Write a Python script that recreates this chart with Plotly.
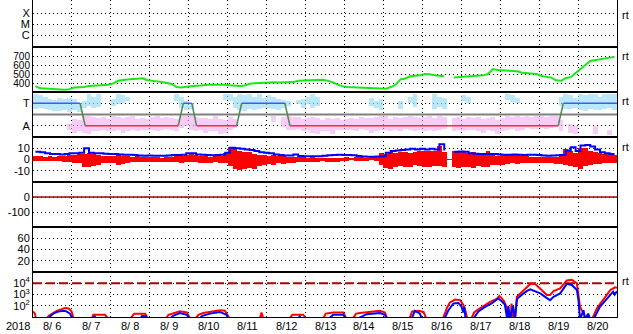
import math
import plotly.graph_objects as go
from plotly.subplots import make_subplots

YEAR_LABEL = "2018"
DAY_LABELS = ["8/ 6", "8/ 7", "8/ 8", "8/ 9", "8/10", "8/11", "8/12", "8/13",
              "8/14", "8/15", "8/16", "8/17", "8/18", "8/19", "8/20"]
N_DAYS = 15
BINS_PER_DAY = 8
N = None

# Panel 2: solar wind speed (3-hour bins)
speed = [365, 341, 340, 335, 330, 328, 326, 332,
         350, 352, 355, 368, 370, 372, 370, 380,
         396, 425, 433, 435, 444, 448, 452, 430,
         420, 418, 410, 396, 390, 355, 350, 358,
         368, 370, 372, 380, 382, 380, 383, 381,
         375, 370, 368, 372, 392, 396, 400, 405,
         405, 407, 406, 408, 405, 410, 425, 426,
         428, 430, 432, 437, 426, 410, 385, 365,
         355, 352, 350, 352, 348, 345, 335, 333,
         335, 355, 380, 440, 450, 475, 480, 485,
         500, 498, 485, 478, 476, N, 462, 465,
         470, 478, 480, 482, 485, 500, 555, 545,
         540, 538, 535, 530, 515, 511, 508, 500,
         478, 470, 460, 430, 425, 455, 465, 510,
         560, 600, 645, 655, 670, 678, 682, 690]

# Panel 3: sector polarity scatter ranges (3-hour bins)
away_lo = [2.5, 2.6, 2.5, 2.4, 2.3, 2.3, 2.4, 2.2, 2.4, 2.2, 2.6, 2.8, 2.6, 2.7, N, N,
           2.8, 2.9, 3.0, 3.2, N, N, N, N, N, N, N, N, N, 3.2, 2.6, 2.4,
           2.5, N, N, N, N, N, N, 3.3, 3.2, 2.6, 2.4, 2.3, 2.5, 2.4, 2.5, 2.6,
           2.6, 2.5, 2.4, 2.6, 2.8, N, 2.9, 2.6, 2.9, 2.6, 2.8, N, N, N, N, N,
           N, N, N, N, N, 2.8, 2.6, 2.4, N, N, N, 2.5, N, 3.0, 2.7, N,
           N, N, 2.5, 2.7, 2.5, N, N, N, 3.2, 3.0, N, N, N, N, N, N,
           N, 3.3, 3.1, 3.0, N, N, N, N, N, N, N, N, 2.8, 2.5, 2.5, 2.6,
           2.4, 2.3, 2.5, 2.4, 2.4, 2.5, 2.6, 2.4]
away_hi = [3.8, 3.7, 3.6, 3.4, 3.3, 3.5, 3.4, 3.5, 3.4, 3.0, 3.2, 3.8, 3.6, 3.8, N, N,
           3.4, 3.8, 3.7, 3.6, N, N, N, N, N, N, N, N, N, 3.8, 3.6, 3.2,
           3.0, N, N, N, N, N, N, 3.8, 3.8, 3.6, 3.8, 3.7, 3.8, 3.6, 3.8, 3.5,
           3.7, 3.6, 3.4, 3.3, 3.2, N, 3.3, 3.4, 3.6, 3.8, 3.6, N, N, N, N, N,
           N, N, N, N, N, 3.5, 3.2, 3.4, N, N, N, 3.2, N, 3.6, 3.8, N,
           N, N, 3.8, 3.6, 3.5, N, N, N, 3.7, 3.6, N, N, N, N, N, N,
           N, 3.8, 3.7, 3.5, N, N, N, N, N, N, N, N, 3.6, 3.8, 3.7, 3.5,
           3.8, 3.7, 3.8, 3.8, 3.6, 3.8, 3.8, 3.8]
toward_lo = [N, N, N, N, N, N, N, 0.6, 0.4, 0.5, 0.4, 0.3, 0.5, 0.5, 0.6, 0.5,
             0.5, 0.6, 0.4, 0.5, 0.6, 0.5, 0.6, 0.6, 0.6, 0.5, 0.6, 0.7, 0.6, 0.5, 0.8, 1.0,
             0.6, 0.5, 0.6, 0.4, 0.5, 0.5, 0.3, 0.4, 0.6, 0.8, N, N, N, N, N, N,
             N, 1.3, N, 0.9, 0.6, 0.6, 0.7, 0.5, 0.5, 0.4, 0.3, 0.5, 0.5, 0.3, 0.6, 0.6,
             0.6, 0.6, 0.5, 0.7, 0.6, 0.4, 0.5, 0.6, 0.6, 0.5, 0.6, 0.5, 0.7, 0.6, 0.5, 0.6,
             0.5, 0.6, 0.5, 0.6, 0.7, N, 0.5, 0.6, 0.5, 0.6, 0.6, 0.5, 0.4, 0.6, 0.5, 0.3,
             0.5, 0.6, 0.7, 0.5, 0.6, 0.8, 0.7, 0.7, 0.8, 0.7, 0.8, 0.9, 0.5, N, 0.4, 0.3,
             N, N, N, 0.3, N, N, 0.2, N]
toward_hi = [N, N, N, N, N, N, N, 1.2, 1.6, 1.5, 1.9, 1.9, 1.8, 1.7, 1.8, 1.6,
             1.9, 1.8, 1.7, 1.8, 1.9, 1.6, 1.7, 1.6, 1.8, 1.9, 1.7, 1.8, 1.7, 1.6, 1.9, 1.9,
             1.9, 1.8, 1.7, 1.7, 1.6, 1.9, 1.6, 1.5, 1.8, 1.6, N, N, N, N, N, N,
             N, 1.9, N, 1.8, 1.9, 1.8, 1.8, 1.6, 1.7, 1.8, 1.7, 1.5, 1.7, 1.6, 1.7, 1.5,
             1.6, 1.7, 1.6, 1.8, 1.7, 1.7, 1.8, 1.9, 1.9, 1.6, 1.8, 1.7, 1.8, 1.9, 1.8, 1.7,
             1.8, 1.9, 1.7, 1.9, 1.8, N, 1.7, 1.8, 1.6, 1.8, 1.7, 1.8, 1.6, 1.7, 1.8, 1.5,
             1.7, 1.9, 1.8, 1.9, 1.8, 1.9, 1.8, 1.9, 1.9, 1.8, 1.9, 1.9, 1.5, N, 1.2, 1.0,
             N, N, N, 1.0, N, N, 0.6, N]

# Panel 3: sector state (T = 3, A = 1), transition days
state_t = [0.0, 1.21, 1.34, 3.73, 3.86, 4.08, 4.20, 5.23, 5.36, 6.47, 6.60, 13.49, 13.62, 15.0]
state_y = [3, 3, 1, 1, 3, 3, 1, 1, 3, 3, 1, 1, 3, 3]

# Panel 4: IMF Bt (blue) and Bz range (red), 3-hour bins
bt = [7.0, 6.5, 5.5, 5.0, 4.8, 4.5, 5.0, 5.5,
      5.5, 6.0, 10.0, 6.0, 5.5, 5.6, 5.2, 5.0,
      5.0, 4.5, 4.3, 4.2, 4.0, 3.6, 3.4, 3.5,
      3.4, 3.3, 3.4, 3.5, 4.0, 4.0, 4.2, 5.5,
      5.5, 4.5, 4.2, 4.0, 3.8, 4.0, 4.2, 6.0,
      10.5, 10.0, 9.5, 9.0, 8.5, 7.5, 6.5, 6.0,
      5.5, 4.5, 4.0, 3.6, 3.5, 4.5, 3.2, 3.0,
      2.8, 2.9, 3.0, 3.4, 3.8, 4.0, 4.2, 4.0,
      4.0, 3.8, 3.2, 2.6, 2.5, 2.5, 2.6, 3.0,
      6.0, 7.5, 8.0, 8.5, 9.0, 9.5, 9.0, 9.5,
      9.0, 9.5, 9.0, 13.5, 8.0, N, 7.0, 7.2,
      6.8, 5.5, 5.2, 5.0, 4.9, 5.0, 5.0, 4.5,
      4.3, 4.2, 4.4, 4.3, 4.0, 4.2, 4.3, 4.0,
      3.6, 3.4, 3.5, 3.8, 4.0, 8.0, 11.0, 7.5,
      12.5, 13.0, 11.5, 9.0, 6.5, 5.5, 5.0, 5.0]
bz_lo = [-1.5, -1.0, -1.5, -1.0, -1.5, -1.0, -2.0, -2.5,
         -3.0, -3.5, -6.5, -7.0, -5.5, -4.5, -3.5, -3.0,
         -3.5, -4.5, -4.0, -3.0, -2.5, -2.0, -2.5, -2.0,
         -2.0, -2.5, -2.0, -2.5, -2.0, -2.5, -3.0, -2.5,
         -2.0, -2.0, -3.0, -3.5, -3.0, -2.5, -3.0, -3.5,
         -6.0, -8.0, -9.0, -8.5, -7.5, -8.0, -6.0, -4.5,
         -4.0, -4.5, -3.5, -4.0, -3.0, -3.0, -2.5, -2.5,
         -2.0, -2.5, -2.0, -1.5, -2.0, -2.5, -2.0, -1.5,
         -1.0, -0.5, -1.0, -1.5, -1.0, -0.5, -1.5, -5.0,
         -7.5, -8.0, -6.5, -6.0, -7.0, -6.5, -5.0, -6.0,
         -6.5, -7.0, -6.0, -6.0, -6.5, N, -7.0, -7.5,
         -7.0, -6.5, -7.5, -6.0, -6.5, -7.0, -5.0, -4.5,
         -4.5, -4.0, -3.5, -4.0, -3.5, -3.0, -3.0, -3.5,
         -3.5, -3.0, -3.5, -4.0, -4.0, -5.0, -6.0, -7.0,
         -8.0, -6.0, -5.0, -4.0, -4.0, -3.5, -3.5, -3.0]
bz_hi = [3.5, 3.0, 2.5, 3.0, 2.5, 3.0, 3.5, 4.0,
         4.0, 4.5, 5.0, 5.5, 4.5, 4.0, 3.0, 3.5,
         3.5, 4.0, 3.5, 3.0, 2.5, 3.0, 2.5, 2.0,
         2.0, 2.5, 1.5, 2.0, 2.0, 3.0, 3.5, 4.0,
         4.5, 4.0, 3.5, 3.0, 2.5, 3.0, 3.0, 6.0,
         11.0, 9.5, 8.0, 7.0, 6.5, 5.0, 4.0, 4.0,
         3.5, 4.0, 3.0, 3.0, 2.5, 2.5, 2.0, 2.0,
         1.5, 2.0, 1.5, 1.0, 1.5, 1.0, 1.5, 1.0,
         2.0, 1.5, 2.5, 2.0, 1.5, 2.0, 2.5, 6.0,
         5.0, 6.5, 6.0, 7.0, 6.5, 5.5, 7.0, 8.0,
         8.0, 8.0, 7.5, 12.0, 7.0, N, 8.0, 7.5,
         7.0, 6.0, 6.5, 5.5, 6.0, 7.5, 4.0, 3.5,
         4.0, 5.0, 4.5, 4.0, 3.5, 3.0, 2.5, 2.5,
         2.5, 2.0, 2.5, 2.0, 5.0, 9.0, 8.0, 6.0,
         10.0, 10.0, 8.0, 7.0, 6.0, 5.0, 4.5, 4.0]

# Panel 7: particle flux, log10 values (days since 8/6 00:00)
flux_red_t = [0.0, 0.05, 0.08, 0.35, 0.40, 0.48, 0.61, 0.74, 0.82, 0.91, 0.99, 1.05,
              1.50, 1.55, 1.85, 1.95, 2.49, 2.60, 2.88, 2.96,
              3.40, 3.48, 3.60, 3.77, 3.95, 4.05, 4.15, 4.25, 4.37, 4.59, 4.80, 4.93, 5.06,
              5.82, 5.87, 5.92, 6.58, 6.66, 6.94, 7.03,
              7.44, 7.52, 7.71, 7.97, 8.06, 8.20, 8.30, 8.40, 8.66, 8.91, 9.04, 9.10,
              9.66, 9.74, 9.90, 10.03, 10.11,
              10.52, 10.60, 10.63, 10.71, 10.84, 10.97, 11.05, 11.11, 11.16,
              11.25, 11.33, 11.40, 11.57, 11.74, 11.91, 11.98, 12.04, 12.10, 12.17, 12.21,
              12.27, 12.29, 12.34, 12.38, 12.43, 12.60, 12.77, 12.90, 13.03, 13.11, 13.20,
              13.28, 13.37, 13.54, 13.71, 13.84, 13.97, 14.01, 14.05, 14.14, 14.20,
              14.30, 14.36, 14.48, 14.65, 14.83, 14.95, 15.0]
flux_red_log = [1.5, 1.3, 0.8, 0.8, 1.1, 1.3, 1.55, 1.7, 1.8, 1.75, 1.5, 0.8,
                0.8, 1.2, 1.2, 0.8, 0.8, 1.3, 1.3, 0.8,
                0.8, 1.2, 1.35, 1.5, 1.4, 0.8, 0.8, 1.2, 1.35, 1.5, 1.6, 1.55, 0.8,
                0.8, 1.4, 0.8, 0.8, 1.2, 1.2, 0.8,
                0.8, 1.3, 1.4, 1.4, 0.8, 0.8, 1.3, 1.35, 1.45, 1.56, 1.4, 0.8,
                0.8, 1.5, 1.55, 1.45, 0.8,
                0.8, 1.5, 1.8, 2.3, 2.55, 2.5, 2.1, 1.5, 0.8,
                0.8, 1.4, 1.6, 2.0, 2.35, 2.6, 2.87, 2.66, 2.4, 1.8, 0.8,
                0.8, 2.2, 0.8, 0.8, 2.8, 3.4, 3.93, 3.93, 3.55, 3.25, 2.95,
                2.95, 3.3, 3.55, 4.24, 4.3, 4.0, 2.66, 1.9, 1.33, 0.8,
                0.8, 0.8, 1.75, 2.5, 3.4, 3.64, 3.6]
flux_blue_t = [0.0, 0.39, 0.45, 0.52, 0.65, 0.78, 0.86, 0.95, 1.02,
               1.55, 1.58, 1.62, 2.75, 2.80, 2.90, 2.94,
               3.50, 3.60, 3.77, 3.95, 4.02, 4.25, 4.35, 4.55, 4.80, 4.97, 5.02,
               6.80, 6.85, 6.90, 7.58, 7.71, 7.97, 8.04,
               8.30, 8.57, 8.91, 9.04, 9.08, 9.72, 9.81, 9.94, 9.99,
               10.56, 10.67, 10.80, 10.93, 11.01, 11.05, 11.08, 11.11,
               11.30, 11.44, 11.61, 11.78, 11.95, 12.04, 12.12, 12.18,
               12.21, 12.25, 12.33, 12.38, 12.43, 12.55, 12.68, 12.77, 12.90, 13.03,
               13.19, 13.28, 13.37, 13.54, 13.71, 13.84, 13.97, 14.01, 14.05,
               14.14, 14.18, 14.26, 14.31, 14.40, 14.56, 14.73, 14.90, 14.94, 15.0]
flux_blue_log = [0.8, 0.8, 1.1, 1.3, 1.48, 1.55, 1.5, 1.3, 0.8,
                 0.8, 1.1, 0.8, 0.8, 1.1, 1.05, 0.8,
                 0.8, 1.1, 1.35, 1.2, 0.8, 0.8, 1.1, 1.3, 1.45, 1.2, 0.8,
                 0.8, 1.05, 0.8, 0.8, 1.2, 1.2, 0.8,
                 0.8, 1.25, 1.35, 1.2, 0.8, 0.8, 1.55, 1.3, 0.8,
                 0.8, 1.6, 2.2, 2.25, 1.9, 1.4, 1.9, 0.8,
                 0.8, 1.5, 1.9, 2.2, 2.65, 2.4, 2.1, 0.8,
                 2.0, 0.8, 2.0, 0.8, 2.6, 2.95, 3.3, 3.45, 3.3, 3.1,
                 2.7, 2.5, 2.8, 3.1, 3.95, 3.85, 3.4, 2.5, 0.8,
                 1.6, 0.8, 1.3, 0.8, 0.8, 1.9, 2.6, 3.25, 3.0, 3.3]

FLUX_ALERT = 1e4

# ---------------------------------------------------------------
step = 1.0 / BINS_PER_DAY
t_mid = [(i + 0.5) * step for i in range(N_DAYS * BINS_PER_DAY)]
t_span = [0, N_DAYS]


def rng(lo, hi):
    return [None if (a is None or b is None) else b - a for a, b in zip(lo, hi)]


fig = make_subplots(rows=7, cols=1, shared_xaxes=True, vertical_spacing=0,
                    row_heights=[47, 45, 45, 45, 45, 45, 45])

# placeholder (empty) traces so every panel is drawn
for r in (1, 6):
    fig.add_trace(go.Scatter(x=t_span, y=[None, None], mode="lines",
                             hoverinfo="skip"), row=r, col=1)
# Panel 5 zero line
fig.add_trace(go.Scatter(x=t_span, y=[0, 0], mode="lines",
                         line=dict(color="#a00000", width=1.5)), row=5, col=1)

# Panel 2
fig.add_trace(go.Scatter(x=t_mid, y=speed, mode="lines",
                         line=dict(color="#18e818", width=2)), row=2, col=1)

# Panel 3 scatter ranges
fig.add_trace(go.Bar(x=t_mid, y=rng(toward_lo, toward_hi), base=toward_lo, width=step,
                     marker=dict(color="rgba(244,170,240,0.6)", line=dict(width=0))), row=3, col=1)
fig.add_trace(go.Bar(x=t_mid, y=rng(away_lo, away_hi), base=away_lo, width=step,
                     marker=dict(color="rgba(150,220,245,0.65)", line=dict(width=0))), row=3, col=1)
fig.add_trace(go.Scatter(x=t_span, y=[2, 2], mode="lines",
                         line=dict(color="#808080", width=2)), row=3, col=1)

# Panel 3 state line
seg = {"T": ([], []), "A": ([], []), "X": ([], [])}
for i in range(len(state_t) - 1):
    y0, y1 = state_y[i], state_y[i + 1]
    key = "X" if y0 != y1 else ("T" if y0 == 3 else "A")
    seg[key][0].extend([state_t[i], state_t[i + 1], None])
    seg[key][1].extend([y0, y1, None])
for key, col in (("T", "#3a5cff"), ("A", "#ff2a2a"), ("X", "#4e8a4e")):
    fig.add_trace(go.Scatter(x=seg[key][0], y=seg[key][1], mode="lines",
                             line=dict(color=col, width=1.5)), row=3, col=1)

# Panel 4
fig.add_trace(go.Bar(x=t_mid, y=rng(bz_lo, bz_hi), base=bz_lo, width=step,
                     marker=dict(color="#ff0000", line=dict(width=0))), row=4, col=1)
fig.add_trace(go.Scatter(x=t_span, y=[0, 0], mode="lines",
                         line=dict(color="#ff0000", width=1)), row=4, col=1)
fig.add_trace(go.Scatter(x=t_mid, y=bt, mode="lines", line_shape="hv",
                         line=dict(color="#0000ff", width=2)), row=4, col=1)

# Panel 7
fig.add_trace(go.Scatter(x=t_span, y=[FLUX_ALERT, FLUX_ALERT], mode="lines",
                         line=dict(color="#b00000", width=2, dash="9px,4px")), row=7, col=1)
fig.add_trace(go.Scatter(x=flux_red_t, y=[10 ** v for v in flux_red_log], mode="lines",
                         line=dict(color="#ff0000", width=2)), row=7, col=1)
fig.add_trace(go.Scatter(x=flux_blue_t, y=[10 ** v for v in flux_blue_log], mode="lines",
                         line=dict(color="#0000ff", width=2)), row=7, col=1)

GRID = dict(showgrid=True, gridcolor="black", griddash="1px,3px", gridwidth=1,
            zeroline=False, showline=True, mirror=True, linecolor="black", linewidth=1,
            ticks="", fixedrange=True)
yspec = {
    1: dict(range=[-0.045, 4.227], tickvals=[1, 2, 3], ticktext=["C", "M", "X"]),
    2: dict(range=[300, 800], tickvals=[400, 500, 600, 700]),
    3: dict(range=[0, 4], tickvals=[1, 3], ticktext=["A", "T"]),
    4: dict(range=[-20, 20], tickvals=[-10, 0, 10], ticktext=["-10", "0", "10"]),
    5: dict(range=[-200, 100], tickvals=[-100, 0], ticktext=["-100", "0"]),
    6: dict(range=[0, 80], tickvals=[20, 40, 60]),
    7: dict(type="log", range=[1, 5], tickvals=[100, 1000, 10000],
            ticktext=["10<sup>2</sup>", "10<sup>3</sup>", "10<sup>4</sup>"]),
}
for r in range(1, 8):
    fsize = 10 if r == 2 else 11
    fig.update_yaxes(row=r, col=1, tickfont=dict(size=fsize, color="black"),
                     **GRID, **yspec[r])
    fig.update_xaxes(row=r, col=1, range=[0, N_DAYS], tickvals=list(range(N_DAYS + 1)),
                     showticklabels=False, showgrid=True, gridcolor="black",
                     griddash="1px,3px", gridwidth=1, zeroline=False, showline=True,
                     mirror=(r != 1), linecolor="black", linewidth=1, ticks="",
                     fixedrange=True)

ann = []
for d, lab in enumerate(DAY_LABELS):
    ann.append(dict(x=d + 0.5, y=0, xref="x7", yref="paper", text=lab, showarrow=False,
                    xanchor="center", yanchor="middle", yshift=-9,
                    font=dict(size=11, color="black")))
ann.append(dict(x=0, y=0, xref="paper", yref="paper", text=YEAR_LABEL, showarrow=False,
                xanchor="left", yanchor="middle", xshift=-29, yshift=-9,
                font=dict(size=11, color="black")))
for r, ys in ((1, -7), (2, -1), (3, -1), (4, -2), (7, -1)):
    yref = "y domain" if r == 1 else f"y{r} domain"
    ann.append(dict(x=1, y=1, xref="paper", yref=yref, text="rt", showarrow=False,
                    xanchor="left", yanchor="top", xshift=3, yshift=ys,
                    font=dict(size=11, color="black")))

fig.update_layout(width=633, height=334, margin=dict(l=33, r=16, t=0, b=17),
                  paper_bgcolor="white", plot_bgcolor="white", showlegend=False,
                  barmode="overlay", bargap=0, annotations=ann,
                  font=dict(family="Liberation Sans, Arial, sans-serif", size=11, color="black"))

fig.write_html("out.html")
